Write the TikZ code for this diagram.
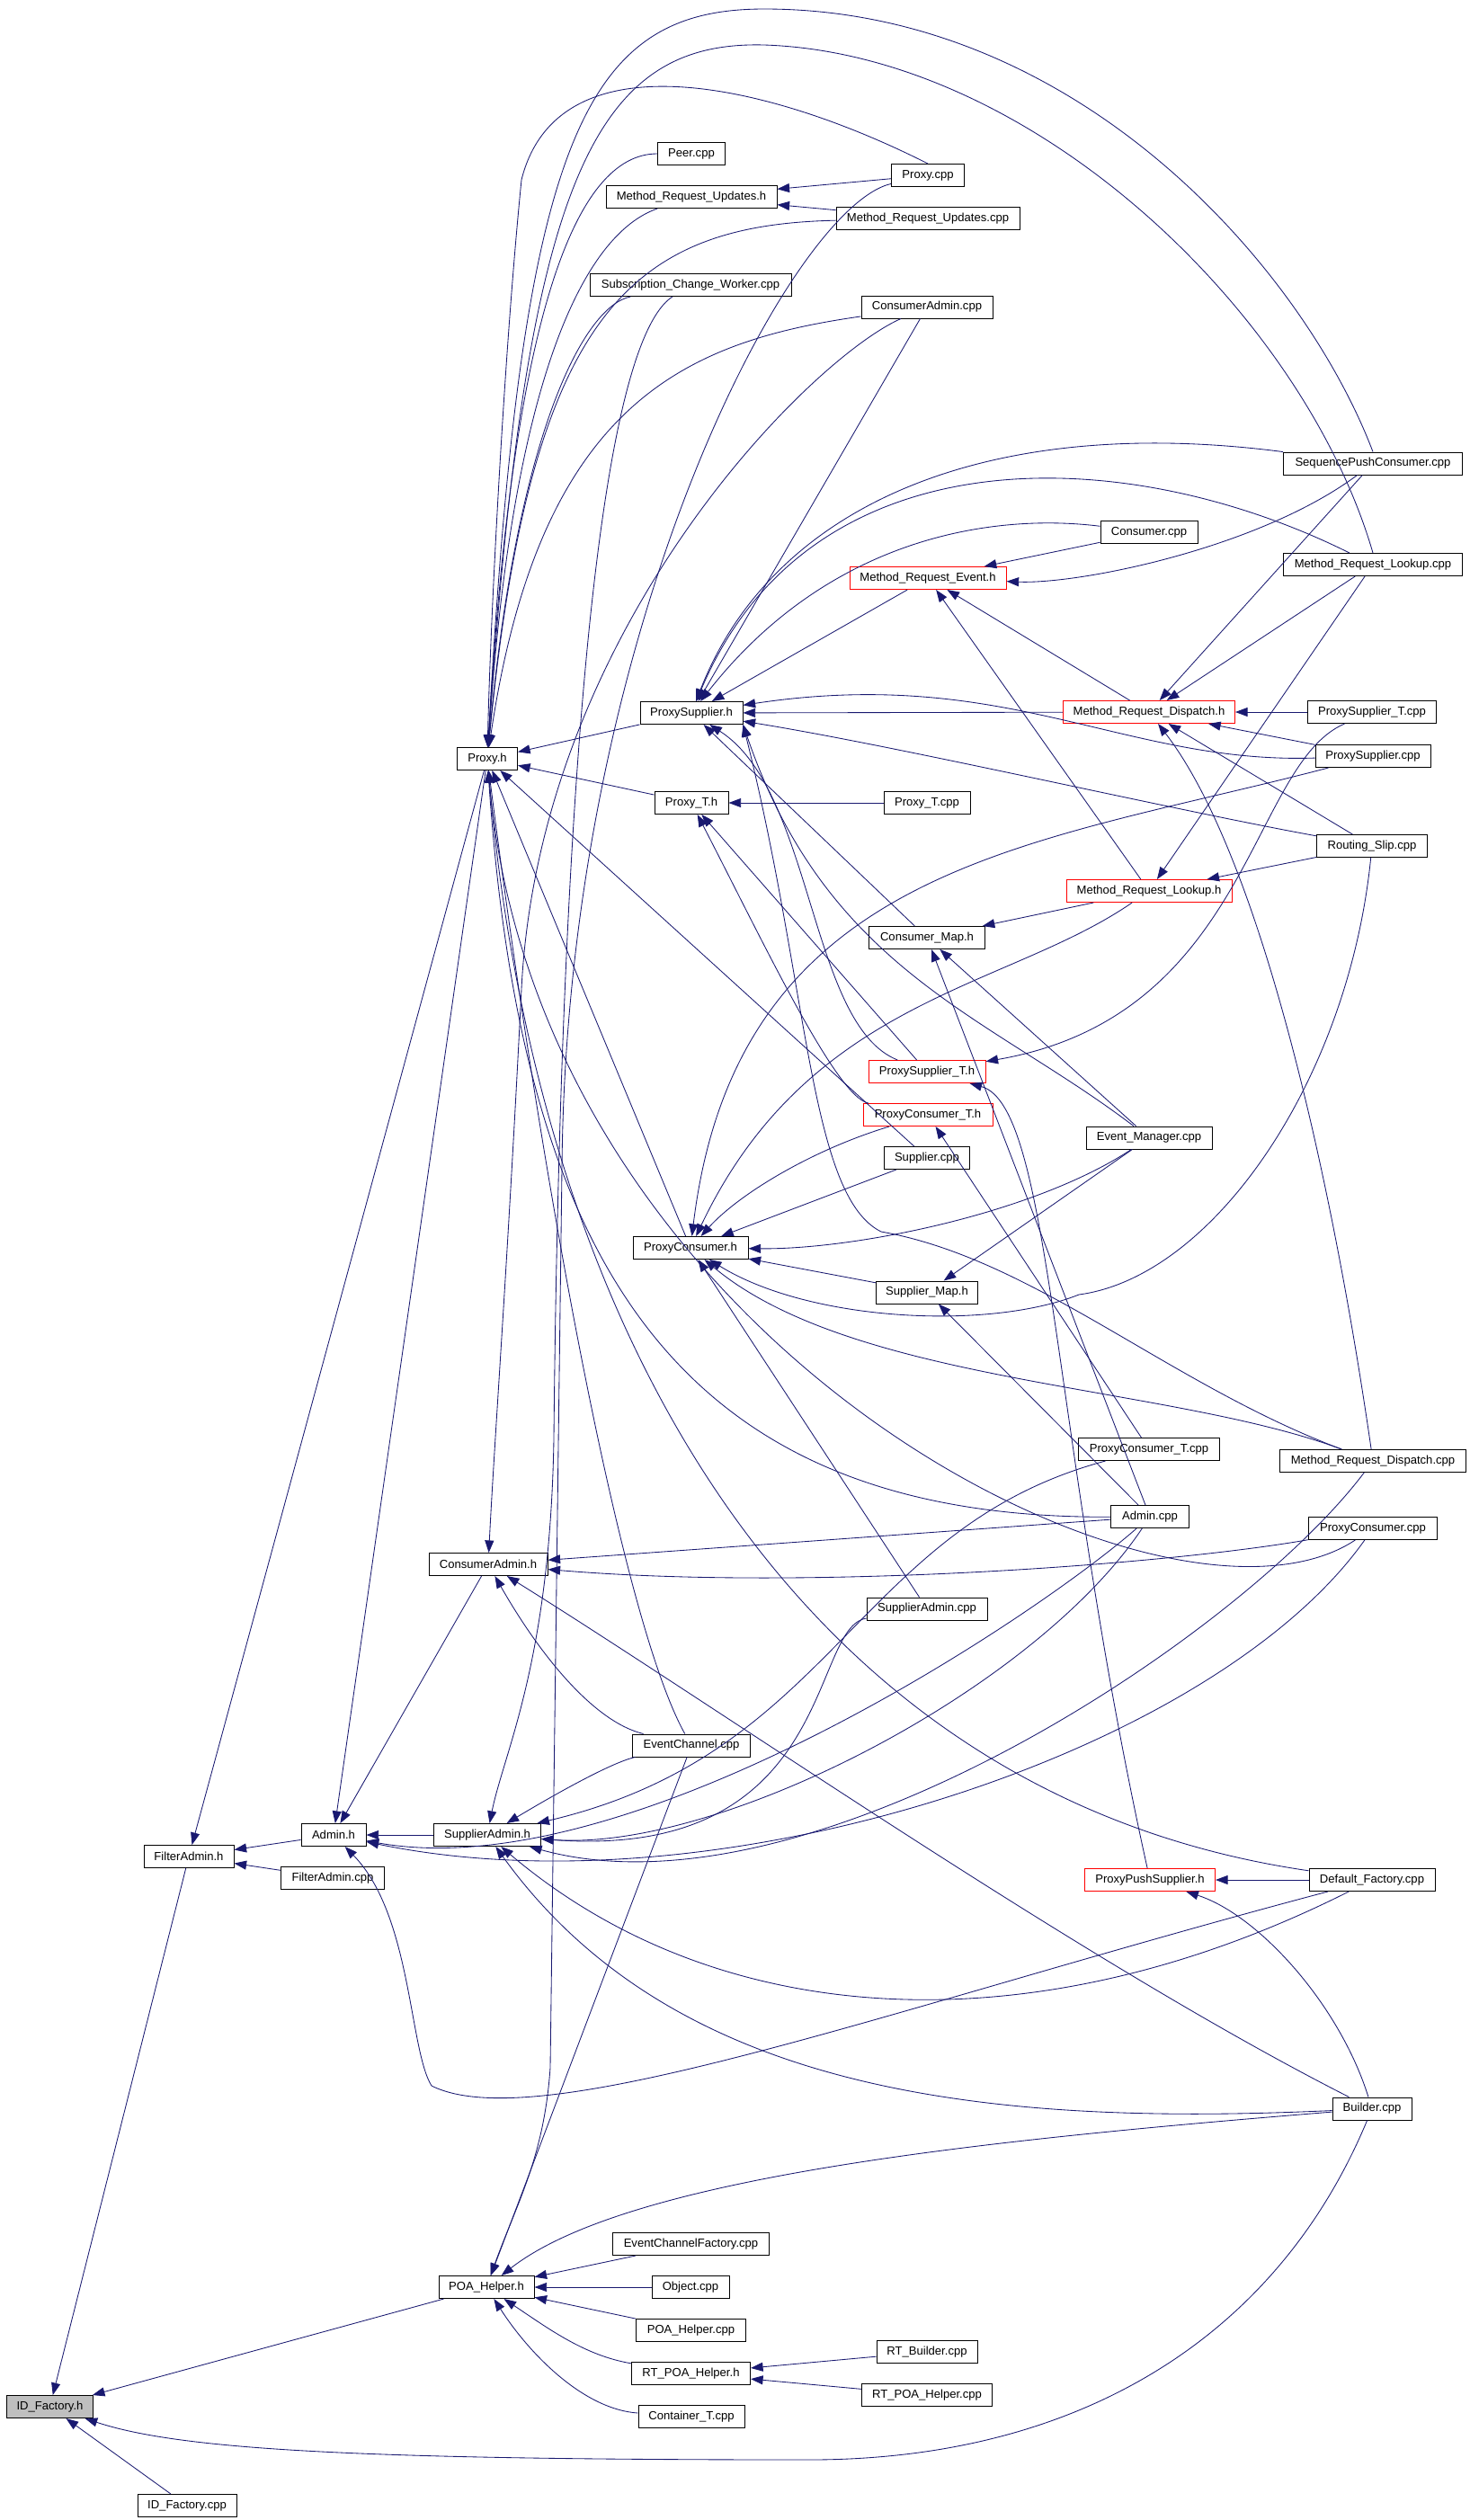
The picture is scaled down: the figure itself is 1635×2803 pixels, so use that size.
\documentclass[tikz,border=0pt]{standalone}
\usepackage{fontspec}
\setmainfont{Liberation Sans}
\usetikzlibrary{arrows.meta}

\definecolor{edge blue}{RGB}{25,25,112}
\colorlet{root fill}{black!25}
\tikzset{
  file/.style={draw=black, line width=0.7pt, rectangle, minimum height=0.625cm,
    inner sep=0pt, font=\fontsize{9.3}{11}\selectfont},
  redfile/.style={file, draw=red},
  rootfile/.style={file, fill=root fill}
  }
\tikzstyle{dep} = [draw=edge blue, line width=0.6pt, -{Triangle[length=3.4mm,width=2.5mm]}]

\begin{document}
\begin{tikzpicture}[x=0.025cm, y=-0.025cm]
  \useasboundingbox (0,0) rectangle (1635,2803);
  % files, centre in pixels / name / width / style / text
  \foreach \pos/\name/\w/\sty/\txt in {
      {(55.5,2677)/idh/96/rootfile/ID\_Factory.h},
      {(208,2787)/idcpp/110/file/ID\_Factory.cpp},
      {(210,2065)/fah/100/file/FilterAdmin.h},
      {(370,2089)/facpp/115/file/FilterAdmin.cpp},
      {(371,2041)/admh/72/file/Admin.h},
      {(542,2041)/sah/119/file/SupplierAdmin.h},
      {(543,1740)/cah/132/file/ConsumerAdmin.h},
      {(542,844)/proxyh/67/file/Proxy.h},
      {(541,2544)/poah/106/file/POA\_Helper.h},
      {(768.5,2496)/ecfcpp/174/file/EventChannelFactory.cpp},
      {(768,2544)/objcpp/86/file/Object.cpp},
      {(768.5,2592)/poacpp/122/file/POA\_Helper.cpp},
      {(768.5,2640)/rtpoah/132/file/RT\_POA\_Helper.h},
      {(769,2688)/ctcpp/118/file/Container\_T.cpp},
      {(1031,2616)/rtbcpp/112/file/RT\_Builder.cpp},
      {(1031,2664)/rtpoacpp/145/file/RT\_POA\_Helper.cpp},
      {(769,171)/peercpp/75/file/Peer.cpp},
      {(769,219)/mruh/190/file/Method\_Request\_Updates.h},
      {(768,317)/scwcpp/224/file/Subscription\_Change\_Worker.cpp},
      {(1032,195)/proxycpp/81/file/Proxy.cpp},
      {(1032,243)/mrucpp/204/file/Method\_Request\_Updates.cpp},
      {(1031,341.5)/cacpp/146/file/ConsumerAdmin.cpp},
      {(769,793)/psh/114/file/ProxySupplier.h},
      {(769,893)/proxyth/82/file/Proxy\_T.h},
      {(1031,893)/proxytcpp/96/file/Proxy\_T.cpp},
      {(768,1388)/pch/128/file/ProxyConsumer.h},
      {(769,1941.5)/eccpp/131/file/EventChannel.cpp},
      {(1032,643)/mreh/174/redfile/Method\_Request\_Event.h},
      {(1278,592)/conscpp/108/file/Consumer.cpp},
      {(1278,792)/mrdh/191/redfile/Method\_Request\_Dispatch.h},
      {(1278,991)/mrlh/184/redfile/Method\_Request\_Lookup.h},
      {(1031,1043)/cmh/129/file/Consumer\_Map.h},
      {(1031,1192)/psth/130/redfile/ProxySupplier\_T.h},
      {(1032,1240)/pcth/144/redfile/ProxyConsumer\_T.h},
      {(1031,1288)/suppcpp/95/file/Supplier.cpp},
      {(1031,1437.5)/smh/113/file/Supplier\_Map.h},
      {(1031,1789.5)/sacpp/134/file/SupplierAdmin.cpp},
      {(1278,1265.5)/emcpp/140/file/Event\_Manager.cpp},
      {(1278,1612)/pctcpp/157/file/ProxyConsumer\_T.cpp},
      {(1279,1687)/admcpp/87/file/Admin.cpp},
      {(1279,2091)/ppsh/145/redfile/ProxyPushSupplier.h},
      {(1527,515.5)/spccpp/199/file/SequencePushConsumer.cpp},
      {(1527,628)/mrlcpp/199/file/Method\_Request\_Lookup.cpp},
      {(1526,792)/pstcpp/143/file/ProxySupplier\_T.cpp},
      {(1527,841)/pscpp/128/file/ProxySupplier.cpp},
      {(1526,941)/rscpp/123/file/Routing\_Slip.cpp},
      {(1527,1625)/mrdcpp/207/file/Method\_Request\_Dispatch.cpp},
      {(1527,1700)/pccpp/143/file/ProxyConsumer.cpp},
      {(1526,2091)/dfcpp/140/file/Default\_Factory.cpp},
      {(1526,2345.5)/bldcpp/88/file/Builder.cpp}} {
    \node[\sty, minimum width=\w*0.025cm] (\name) at \pos {\txt};
  }

  % straight includes
  \foreach \src/\dst in {idcpp/idh, fah/idh, poah/idh,
      admh/fah, facpp/fah, proxyh/fah, sah/admh, cah/admh, proxyh/admh,
      ecfcpp/poah, objcpp/poah, poacpp/poah, eccpp/poah,
      rtbcpp/rtpoah, rtpoacpp/rtpoah,
      psh/proxyh, proxyth/proxyh, pch/proxyh, suppcpp/proxyh,
      proxycpp/mruh, mrucpp/mruh,
      proxytcpp/proxyth, psth/proxyth,
      conscpp/mreh, mrdh/mreh, mrlh/mreh,
      pstcpp/mrdh, pscpp/mrdh, rscpp/mrdh, spccpp/mrdh, mrlcpp/mrdh,
      rscpp/mrlh, mrlcpp/mrlh, mrlh/cmh, emcpp/cmh, admcpp/cmh,
      emcpp/smh, admcpp/smh, smh/pch, suppcpp/pch, sacpp/pch,
      dfcpp/ppsh, pctcpp/pcth,
      cmh/psh, mreh/psh, mrdh/psh, cacpp/psh, admcpp/cah} {
    \draw[dep] (\src) -- (\dst);
  }

  % curved includes
  \draw[dep] (bldcpp) .. controls (1420,2600) and (1200,2736) .. (900,2736)
    .. controls (400,2736) and (200,2725) .. (idh);
  \draw[dep] (bldcpp) .. controls (1100,2380) and (700,2420) .. (poah);
  \draw[dep] (bldcpp) .. controls (1490,2230) and (1400,2130) .. (ppsh);
  \draw[dep] (bldcpp) .. controls (1200,2180) and (800,1900) .. (cah);
  \draw[dep] (bldcpp) .. controls (1100,2365) and (750,2330) .. (sah);
  \draw[dep] (dfcpp) .. controls (1000,2230) and (600,2380) .. (480,2320)
    .. controls (455,2280) and (458,2130) .. (admh);
  \draw[dep] (dfcpp) .. controls (1150,2280) and (800,2260) .. (sah);
  \draw[dep] (dfcpp) .. controls (900,2000) and (600,1500) .. (proxyh);
  \draw[dep] (pccpp) .. controls (1350,1950) and (800,2130) .. (admh);
  \draw[dep] (pccpp) .. controls (1300,1740) and (900,1770) .. (cah);
  \draw[dep] (pccpp) .. controls (1300,1850) and (600,1500) .. (proxyh);
  \draw[dep] (mrdcpp) .. controls (1380,1820) and (900,2140) .. (sah);
  \draw[dep] (mrdcpp) .. controls (1480,1300) and (1400,950) .. (mrdh);
  \draw[dep] (mrdcpp) .. controls (1300,1540) and (1150,1400) .. (980,1370)
    .. controls (900,1330) and (900,1100) .. (psh.south east);
  \draw[dep] (mrdcpp) .. controls (1300,1540) and (950,1540) .. (pch);
  \draw[dep] (admcpp) .. controls (1150,1880) and (800,2060) .. (sah);
  \draw[dep] (admcpp) .. controls (1150,1800) and (700,2100) .. (admh);
  \draw[dep] (admcpp) .. controls (750,1690) and (580,1400) .. (proxyh);
  \draw[dep] (eccpp) .. controls (660,1915) and (600,1840) .. (cah);
  \draw[dep] (eccpp) .. controls (680,1960) and (610,2000) .. (sah);
  \draw[dep] (eccpp) .. controls (690,1800) and (600,1300) .. (proxyh);
  \draw[dep] (sacpp) .. controls (900,1810) and (930,2070) .. (sah);
  \draw[dep] (pctcpp) .. controls (950,1700) and (930,1950) .. (sah);
  \draw[dep] (ctcpp) .. controls (650,2680) and (590,2620) .. (poah);
  \draw[dep] (rtpoah) .. controls (650,2620) and (610,2590) .. (poah);
  \draw[dep] (proxycpp) .. controls (880,230) and (630,700) .. (625,1300)
    -- (612,2300) .. controls (605,2400) and (575,2450) .. (poah);
  \draw[dep] (proxycpp.north) .. controls (850,90) and (620,40) .. (580,200)
    .. controls (560,400) and (545,700) .. (proxyh);
  \draw[dep] (peercpp) .. controls (640,171) and (570,350) .. (proxyh);
  \draw[dep] (mruh) .. controls (650,260) and (570,420) .. (proxyh);
  \draw[dep] (scwcpp) .. controls (650,340) and (575,480) .. (proxyh);
  \draw[dep] (mrucpp) .. controls (700,250) and (590,350) .. (proxyh);
  \draw[dep] (cacpp) .. controls (760,380) and (600,450) .. (proxyh);
  \draw[dep] (spccpp.north) .. controls (1450,300) and (1200,10) .. (850,10)
    .. controls (650,10) and (580,150) .. (proxyh);
  \draw[dep] (mrlcpp.north) .. controls (1450,350) and (1150,60) .. (850,50)
    .. controls (660,45) and (585,200) .. (proxyh);
  \draw[dep] (cacpp) .. controls (900,400) and (600,700) .. (580,1100)
    .. controls (565,1400) and (550,1600) .. (cah);
  \draw[dep] (scwcpp) .. controls (640,400) and (620,1200) .. (616,1600)
    .. controls (612,1850) and (560,1950) .. (sah);
  \draw[dep] (spccpp) .. controls (1100,460) and (860,560) .. (psh);
  \draw[dep] (mrlcpp) .. controls (1250,490) and (900,480) .. (psh);
  \draw[dep] (conscpp) .. controls (1100,570) and (920,600) .. (psh);
  \draw[dep] (pscpp) .. controls (1250,850) and (1120,740) .. (psh);
  \draw[dep] (rscpp) .. controls (1300,900) and (1000,830) .. (psh);
  \draw[dep] (psth) .. controls (900,1140) and (905,880) .. (psh);
  \draw[dep] (emcpp) .. controls (1100,1130) and (920,1080) .. (psh.south east);
  \draw[dep] (spccpp) .. controls (1400,610) and (1200,650) .. (mreh);
  \draw[dep] (pcth) .. controls (930,1220) and (850,1050) .. (proxyth);
  \draw[dep] (pstcpp) .. controls (1390,850) and (1390,1130) .. (psth);
  \draw[dep] (pcth) .. controls (900,1280) and (820,1330) .. (pch);
  \draw[dep] (emcpp) .. controls (1150,1350) and (950,1390) .. (pch);
  \draw[dep] (rscpp) .. controls (1500,1200) and (1350,1420) .. (1200,1440)
    .. controls (1100,1480) and (900,1470) .. (pch);
  \draw[dep] (pscpp) .. controls (1150,940) and (820,960) .. (pch);
  \draw[dep] (mrlh) .. controls (1120,1100) and (900,1110) .. (pch);
  \draw[dep] (ppsh) .. controls (1170,1600) and (1170,1230) .. (psth);
\end{tikzpicture}
\end{document}
